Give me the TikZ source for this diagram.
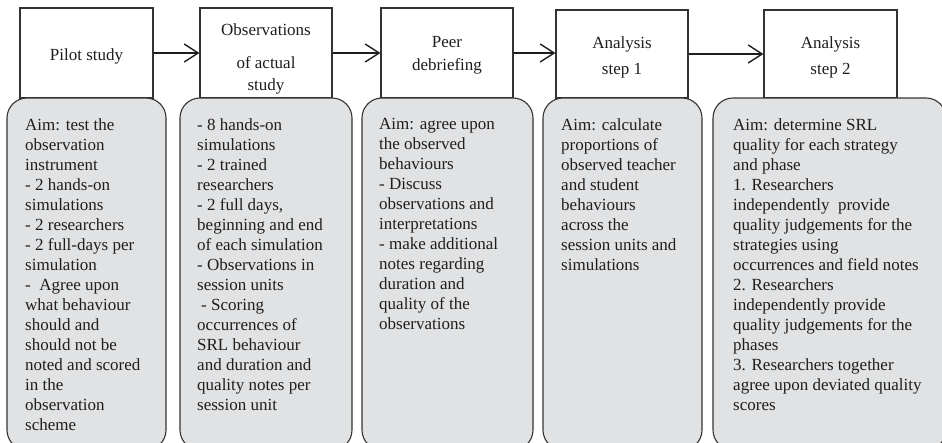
\documentclass[tikz,border=0pt]{standalone}
\usepackage{fontspec}
\setmainfont{Liberation Serif}
\usetikzlibrary{arrows.meta}
\definecolor{boxgray}{HTML}{E1E2E4}
\definecolor{edgegray}{HTML}{333333}
\definecolor{txtcol}{HTML}{1E1E1E}
\tikzset{
  topbox/.style={draw=edgegray, line width=1.1pt, fill=white, inner sep=0pt, minimum width=#1},
  topbox/.default=133pt,
  rbox/.style={draw=edgegray, line width=1.1pt, fill=boxgray, rounded corners=20pt, inner sep=0pt, minimum height=352pt, minimum width=#1},
  btxt/.style={text=txtcol, inner sep=0pt, anchor=north west, align=left, font=\fontsize{17}{20}\selectfont},
  ttxt/.style={text=txtcol, inner sep=0pt, align=center, font=\fontsize{17}{#1}\selectfont},
  ttxt/.default=23,
  flowarrow/.style={draw=txtcol, line width=1.2pt, -{Straight Barb[length=14pt,width=18pt,line width=1.4pt]}}
}
\begin{document}
\begin{tikzpicture}[x=1pt,y=-1pt]
\useasboundingbox (0,0) rectangle (942,442);
\clip (0,0) rectangle (942,442);
% top boxes
\node[topbox=133pt, minimum height=90pt] (t1) at (86.5,53) {};
\node[topbox=132pt, minimum height=90pt] (t2) at (266,53) {};
\node[topbox=132pt, minimum height=90pt] (t3) at (447,53) {};
\node[topbox=132pt, minimum height=88pt] (t4) at (622,54) {};
\node[topbox=133pt, minimum height=88pt] (t5) at (830.5,54) {};
% top labels
\node[ttxt, anchor=base] (l1) at (86.5,60) {Pilot study};
\node[ttxt=22, anchor=north] (l2) at (266,23.4) {Observations\\[11pt] of actual\\ study};
\node[ttxt=23, anchor=north] (l3) at (447,36.4) {Peer\\ debriefing};
\node[ttxt=26, anchor=north] (l4) at (622,36.4) {Analysis\\ step 1};
\node[ttxt=26, anchor=north] (l5) at (830.5,36.4) {Analysis\\ step 2};
% arrows
\draw[flowarrow] (t1.east) -- (t2.west);
\draw[flowarrow] (t2.east) -- (t3.west);
\draw[flowarrow] (t3.east) -- (t3.east -| t4.west);
\draw[flowarrow] (t4.east) -- (t5.west);
% bottom boxes
\node[rbox=159pt] (b1) at (86.5,274) {};
\node[rbox=172pt] (b2) at (266,274) {};
\node[rbox=171pt] (b3) at (447.5,274) {};
\node[rbox=159pt] (b4) at (622.5,274) {};
\node[rbox=233pt] (b5) at (829.5,274) {};
% bottom texts
\node[btxt] (x1) at (25,118.4) {Aim: test the\\ observation\\ instrument\\ - 2 hands-on\\ simulations\\ - 2 researchers\\ - 2 full-days per\\ simulation\\ -\ \ Agree upon\\ what behaviour\\ should and\\ should not be\\ noted and scored\\ in the\\ observation\\ scheme};
\node[btxt] (x2) at (197,118.4) {- 8 hands-on\\ simulations\\ - 2 trained\\ researchers\\ - 2 full days,\\ beginning and end\\ of each simulation\\ - Observations in\\ session units\\ \hspace*{4pt}- Scoring\\ occurrences of\\ SRL behaviour\\ and duration and\\ quality notes per\\ session unit};
\node[btxt] (x3) at (379,118.4) {Aim: agree upon\\ the observed\\ behaviours\\ - Discuss\\ observations and\\ interpretations\\ - make additional\\ notes regarding\\ duration and\\ quality of the\\ observations};
\node[btxt] (x4) at (561,118.4) {Aim: calculate\\ proportions of\\ observed teacher\\ and student\\ behaviours\\ across the\\ session units and\\ simulations};
\node[btxt] (x5) at (733,118.4) {Aim: determine SRL\\ quality for each strategy\\ and phase\\ 1. Researchers\\ independently\ \ provide\\ quality judgements for the\\ strategies using\\ occurrences and field notes\\ 2. Researchers\\ independently provide\\ quality judgements for the\\ phases\\ 3. Researchers together\\ agree upon deviated quality\\ scores};
\end{tikzpicture}
\end{document}
